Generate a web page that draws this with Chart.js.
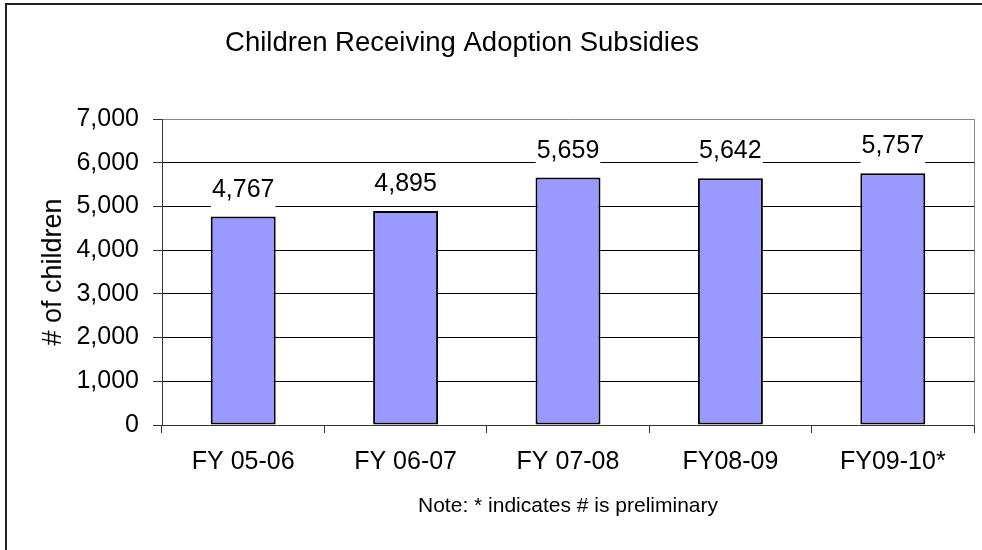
<!DOCTYPE html>
<html>
<head>
<meta charset="utf-8">
<title>Children Receiving Adoption Subsidies</title>
<script src="https://cdn.jsdelivr.net/npm/chart.js@4"></script>
<style>
  html, body { margin: 0; padding: 0; background: #fff; }
  #wrap { width: 982px; height: 550px; position: relative; }
</style>
</head>
<body>
<div id="wrap"><canvas id="myChart" width="982" height="550"></canvas></div>
<script>
// Children receiving adoption subsidies, by fiscal year

const categories = ['FY 05-06', 'FY 06-07', 'FY 07-08', 'FY08-09', 'FY09-10*'];
const children = [4767, 4895, 5659, 5642, 5757];
const yTicks = [0, 1000, 2000, 3000, 4000, 5000, 6000, 7000];

const chartTitle = 'Children Receiving Adoption Subsidies';
const yTitle = '# of children';
const noteText = 'Note: * indicates # is preliminary';

const FONT = '"Liberation Sans", Arial, sans-serif';

// frame, title and value labels drawn on top of the library's layout
const decorations = {
    id: 'decorations',
    beforeDraw(chart) {
        const ctx = chart.ctx;
        ctx.save();
        ctx.fillStyle = '#fff';
        ctx.fillRect(0, 0, chart.width, chart.height);
        // outer frame (only left and top edges are visible)
        ctx.fillStyle = '#222';
        ctx.fillRect(5, 3, 2, chart.height - 3);
        ctx.fillRect(5, 3, chart.width - 5, 2);
        ctx.restore();
    },
    afterDraw(chart) {
        const ctx = chart.ctx;
        const area = chart.chartArea;
        ctx.save();
        // right edge of the plot
        ctx.strokeStyle = '#888';
        ctx.lineWidth = 1;
        ctx.beginPath();
        ctx.moveTo(Math.round(area.right) + 0.5, area.top);
        ctx.lineTo(Math.round(area.right) + 0.5, area.bottom);
        ctx.stroke();

        // title
        ctx.fillStyle = '#000';
        ctx.font = '27.5px ' + FONT;
        ctx.textAlign = 'center';
        ctx.textBaseline = 'alphabetic';
        ctx.fillText(chartTitle, 462, 51);
        ctx.restore();
    },
    afterDatasetsDraw(chart) {
        const ctx = chart.ctx;
        const meta = chart.getDatasetMeta(0);
        ctx.save();
        ctx.font = '25px ' + FONT;
        ctx.textAlign = 'center';
        ctx.textBaseline = 'alphabetic';
        meta.data.forEach((bar, i) => {
            const text = children[i].toLocaleString('en-US');
            const w = ctx.measureText(text).width;
            const base = bar.y - 20;
            ctx.fillStyle = '#fff';
            ctx.fillRect(bar.x - w / 2 - 1, base - 24, w + 2, 36);
            ctx.fillStyle = '#000';
            ctx.fillText(text, bar.x, base);
        });
        ctx.restore();
    }
};

function renderChart() {
    const ctx = document.getElementById('myChart').getContext('2d');

    new Chart(ctx, {
        type: 'bar',
        data: {
            labels: categories,
            datasets: [{
                label: yTitle,
                data: children,
                backgroundColor: '#9999FF',
                borderColor: '#000',
                borderWidth: 2,
                borderSkipped: false,
                categoryPercentage: 1.0,
                barPercentage: 0.4
            }]
        },
        options: {
            responsive: false,
            animation: false,
            events: [],
            layout: { padding: { top: 119, right: 8, left: 0, bottom: 0 } },
            plugins: {
                legend: { display: false },
                title: { display: false },
                tooltip: { enabled: false }
            },
            scales: {
                x: {
                    afterFit(scale) { scale.height = 125; },
                    grid: {
                        display: true,
                        drawOnChartArea: false,
                        drawTicks: true,
                        tickLength: 8,
                        color: '#333',
                        offset: true
                    },
                    border: { color: '#333', width: 1 },
                    ticks: {
                        color: '#000',
                        font: { family: FONT, size: 25 },
                        padding: 14,
                        maxRotation: 0
                    },
                    title: {
                        display: true,
                        text: noteText,
                        color: '#000',
                        font: { family: FONT, size: 21 },
                        padding: { top: 0, bottom: 31 }
                    }
                },
                y: {
                    min: 0,
                    max: 7000,
                    afterFit(scale) { scale.width = 162; },
                    afterBuildTicks(scale) {
                        scale.ticks = yTicks.map(v => ({ value: v }));
                    },
                    grid: {
                        color: c => (c.tick && c.tick.value === 7000 ? '#888' : '#000'),
                        tickColor: '#333',
                        tickLength: 9,
                        lineWidth: 1
                    },
                    border: { color: '#333', width: 1 },
                    ticks: {
                        color: '#000',
                        font: { family: FONT, size: 25 },
                        padding: 14,
                        callback: v => Number(v).toLocaleString('en-US')
                    },
                    title: {
                        display: true,
                        text: yTitle,
                        color: '#000',
                        font: { family: FONT, size: 27 },
                        padding: { top: 37, bottom: 0 }
                    }
                }
            }
        },
        plugins: [decorations]
    });
}

renderChart();
</script>
</body>
</html>
